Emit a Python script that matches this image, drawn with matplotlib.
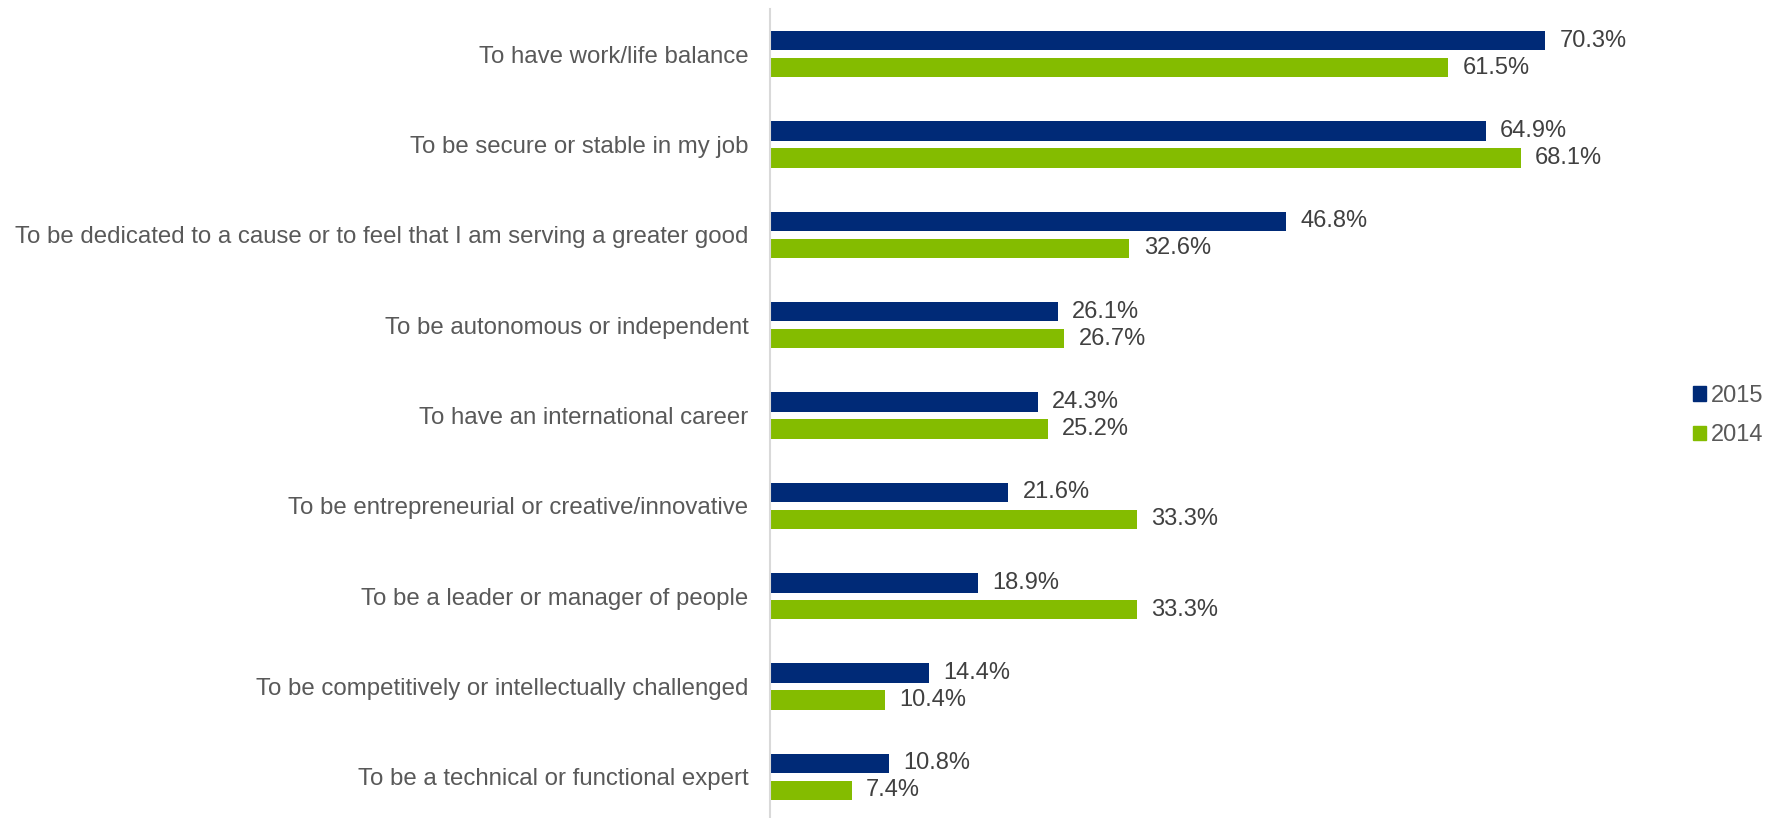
import numpy as np
import matplotlib.pyplot as plt
from matplotlib.patches import Rectangle

plt.rcParams['font.family'] = ['Liberation Sans', 'DejaVu Sans']

# survey answers, top to bottom
categories = [
    "To have work/life balance",
    "To be secure or stable in my job",
    "To be dedicated to a cause or to feel that I am serving a greater good",
    "To be autonomous or independent",
    "To have an international career",
    "To be entrepreneurial or creative/innovative",
    "To be a leader or manager of people",
    "To be competitively or intellectually challenged",
    "To be a technical or functional expert",
]
vals_2015 = [70.3, 64.9, 46.8, 26.1, 24.3, 21.6, 18.9, 14.4, 10.8]
vals_2014 = [61.5, 68.1, 32.6, 26.7, 25.2, 33.3, 33.3, 10.4, 7.4]
series_names = ["2015", "2014"]

NAVY = '#002A77'
GREEN = '#84BC00'
LABEL_GREY = '#595959'
VALUE_GREY = '#404040'

fig = plt.figure(figsize=(17.81, 8.18), dpi=100)
ax = fig.add_axes([770/1781, 0, 882/1781, 809/818])

y = np.arange(len(categories))
h = 0.216
off = 0.149
b1 = ax.barh(y - off, vals_2015, height=h, color=NAVY)
b2 = ax.barh(y + off, vals_2014, height=h, color=GREEN)

# value labels just right of each bar
for bars, vals in ((b1, vals_2015), (b2, vals_2014)):
    for bar, v in zip(bars, vals):
        ax.text(v + 1.3, bar.get_y() + bar.get_height()/2, "{0:.1f}%".format(v),
                va='center', ha='left', fontsize=17, color=VALUE_GREY)

ax.set_xlim(0, 80)
ax.set_ylim(8.455, -0.5)
ax.set_yticks(y)
ax.set_yticklabels(categories, fontsize=17.3, color=LABEL_GREY)
ax.tick_params(axis='y', length=0, pad=15.5)
ax.set_xticks([])
for s in ('top', 'right', 'bottom'):
    ax.spines[s].set_visible(False)
ax.spines['left'].set_color('#D9D9D9')
ax.spines['left'].set_linewidth(1.5)

handles = [Rectangle((0, 0), 1, 1, color=NAVY), Rectangle((0, 0), 1, 1, color=GREEN)]
fig.legend(handles, series_names, loc='center left', bbox_to_anchor=(1693/1781, 1 - 415.5/818),
           frameon=False, fontsize=17, labelcolor=LABEL_GREY, handlelength=0.55,
           handleheight=0.55, handletextpad=0.21, labelspacing=0.74, borderpad=0,
           borderaxespad=0)

fig.savefig('out.png', dpi=100)
